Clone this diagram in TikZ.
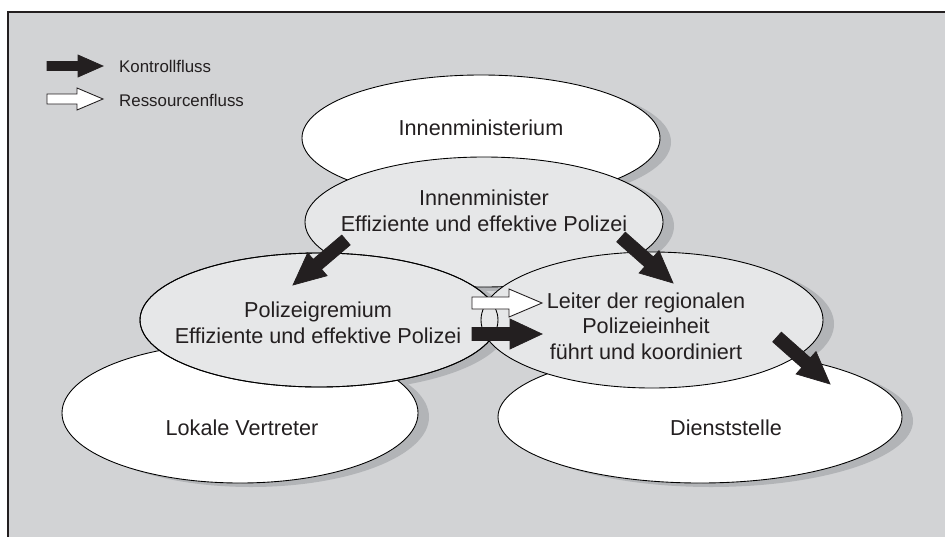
\documentclass[tikz,border=0pt]{standalone}
\usepackage{fontspec}
\setmainfont{Liberation Sans}
\usetikzlibrary{shapes.geometric,calc}
\definecolor{bggrey}{RGB}{210,211,213}
\definecolor{light}{RGB}{230,231,232}
\definecolor{shade}{RGB}{178,180,183}
\definecolor{ink}{RGB}{35,31,32}
% block arrow: style, tail, tip, half shaft, half head, head length
\newcommand{\blockarrow}[6]{%
  \filldraw[#1] ($(#2)!#4!90:(#3)$) -- ($(#3)!#6!(#2)!#4!90:(#3)$)
    -- ($(#3)!#6!(#2)!#5!90:(#3)$) -- (#3)
    -- ($(#3)!#6!(#2)!#5!-90:(#3)$) -- ($(#3)!#6!(#2)!#4!-90:(#3)$)
    -- ($(#2)!#4!-90:(#3)$) -- cycle;}
\begin{document}
\begin{tikzpicture}[x=0.2mm, y=-0.2mm,
    zone/.style={ellipse, draw=black, line width=0.5pt, inner sep=0pt},
    zonetext/.style={text=ink, font=\fontsize{12.3}{14.6}\selectfont, align=center},
    legendtext/.style={text=ink, font=\fontsize{9.6}{11}\selectfont, anchor=west},
    controlflow/.style={fill=ink, draw=ink, line width=0.4pt},
    resourceflow/.style={fill=white, draw=ink, line width=0.5pt}]
    \useasboundingbox (0,0) rectangle (945,536);
    \draw[ink, line width=1.7pt, fill=bggrey] (8,12) rectangle (975,575);
    % shadows first
    \foreach \n/\cx/\cy/\w/\h in {im/481/138/7.16cm/2.52cm, imr/484/222/7.16cm/2.6cm,
        lv/240/413/7.12cm/2.8cm, ds/700/417/8.08cm/2.64cm,
        pg/319/320/7.16cm/2.68cm, lr/652/320/6.84cm/2.72cm}
    \node[zone, draw=none, fill=shade, minimum width=\w, minimum height=\h] (\n-sh) at (\cx+11,\cy+4) {};
    % the ellipses
    \foreach \n/\cx/\cy/\w/\h/\c in {im/481/138/7.16cm/2.52cm/white, imr/484/222/7.16cm/2.6cm/light,
        lv/240/413/7.12cm/2.8cm/white, ds/700/417/8.08cm/2.64cm/white,
        pg/319/320/7.16cm/2.68cm/light, lr/652/320/6.84cm/2.72cm/light}
    \node[zone, fill=\c, minimum width=\w, minimum height=\h] (\n) at (\cx,\cy) {};
    \draw[line width=0.5pt] (pg) ellipse [x radius=179, y radius=67];
    % texts
    \node[zonetext] (im-t) at (481,128) {Innenministerium};
    \node[zonetext] (imr-t) at (484,211) {Innenminister\\Effiziente und effektive Polizei};
    \node[zonetext] (pg-t) at (318,323) {Polizeigremium\\Effiziente und effektive Polizei};
    \node[zonetext] (lr-t) at (646,326) {Leiter der regionalen\\Polizeieinheit\\führt und koordiniert};
    \node[zonetext] (lv-t) at (242,428) {Lokale Vertreter};
    \node[zonetext] (ds-t) at (726,428) {Dienststelle};
    % flows
    \coordinate (k1s) at (346,240); \coordinate (k1e) at (293,285);
    \coordinate (k2s) at (621,237); \coordinate (k2e) at (673,283);
    \coordinate (k3s) at (777,337); \coordinate (k3e) at (830,384);
    \coordinate (k4s) at (472,334); \coordinate (k4e) at (542,334);
    \coordinate (r1s) at (472,303); \coordinate (r1e) at (542,303);
    \foreach \s/\e in {k1s/k1e, k2s/k2e, k3s/k3e, k4s/k4e}
    \blockarrow{controlflow}{\s}{\e}{0.13cm}{0.3cm}{0.64cm};
    \blockarrow{resourceflow}{r1s}{r1e}{0.12cm}{0.28cm}{0.66cm};
    % legend
    \coordinate (lk1) at (47,66); \coordinate (lk2) at (103,66);
    \coordinate (lr1) at (47,99); \coordinate (lr2) at (103,99);
    \blockarrow{controlflow}{lk1}{lk2}{0.09cm}{0.22cm}{0.5cm};
    \blockarrow{resourceflow}{lr1}{lr2}{0.1cm}{0.22cm}{0.52cm};
    \node[legendtext] (kf) at (113,66) {Kontrollfluss};
    \node[legendtext] (rf) at (113,100) {Ressourcenfluss};
\end{tikzpicture}
\end{document}
